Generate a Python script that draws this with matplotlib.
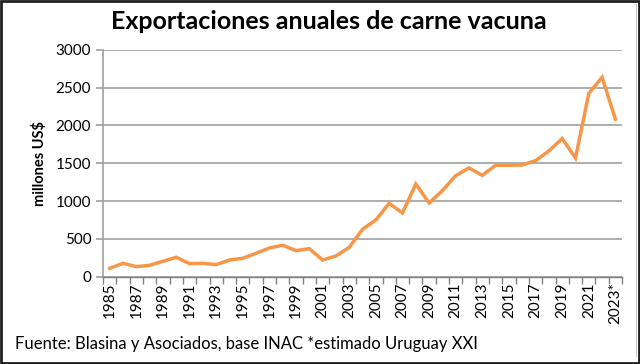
import matplotlib.pyplot as plt
from matplotlib.patches import Rectangle

years = list(range(1985, 2024))
labels = [str(y) for y in years[:-1]] + ["2023*"]
values = [110, 176, 132, 150, 203, 256, 172, 176, 159, 220,
          243, 309, 379, 415, 344, 370, 220, 273, 388, 626,
          750, 970, 842, 1226, 975, 1138, 1336, 1438, 1340, 1473,
          1473, 1477, 1535, 1663, 1826, 1570, 2425, 2637, 2082]
yticks = [0, 500, 1000, 1500, 2000, 2500, 3000]

plt.rcParams['font.family'] = ['Lato', 'DejaVu Sans']

fig = plt.figure(figsize=(6.4, 3.64), dpi=100)
ax = fig.add_axes([0.161, 0.240, 0.811, 0.623])

x = list(range(len(values)))
ax.plot(x, values, color="#F79646", lw=2.5, solid_joinstyle="miter", zorder=3)

ax.set_xlim(-0.5, len(values) - 0.5)
ax.set_ylim(0, 3000)
ax.set_yticks(yticks)
ax.set_yticklabels([str(v) for v in yticks], fontsize=11)
ax.grid(axis="y", color="#A0A0A0", lw=1.2)
ax.set_axisbelow(True)

# category ticks between years, labels every other year
ax.set_xticks([i - 0.5 for i in range(len(values) + 1)], minor=False)
ax.set_xticklabels([])
ax.set_xticks(x[::2], minor=True)
ax.set_xticklabels(labels[::2], minor=True, rotation=90, fontsize=11)
ax.tick_params(axis="x", which="major", length=5, color="#808080", width=1)
ax.tick_params(axis="x", which="minor", length=0, pad=4)
ax.tick_params(axis="y", length=5, color="#A0A0A0", width=1.2)

for s in ["top", "right"]:
    ax.spines[s].set_visible(False)
ax.spines["left"].set_color("#A0A0A0")
ax.spines["left"].set_linewidth(1.2)
ax.spines["bottom"].set_color("#808080")
ax.spines["bottom"].set_linewidth(1)

ax.set_ylabel("millones US$", fontsize=10.5, fontweight="bold", labelpad=6)

fig.text(0.513, 0.94, "Exportaciones anuales de carne vacuna",
         ha="center", va="center", fontsize=18, fontweight="bold")
fig.text(0.023, 0.055, "Fuente: Blasina y Asociados, base INAC *estimado Uruguay XXI",
         ha="left", va="center", fontsize=12)

fig.patches.append(Rectangle((0.994, 0.02), 0.001, 0.97, transform=fig.transFigure,
                             facecolor="#C8C8C8", edgecolor="none"))
fig.patches.append(Rectangle((0.002, 0.004), 0.996, 0.992, transform=fig.transFigure,
                             fill=False, edgecolor="#202020", lw=2))

fig.savefig("out.png", dpi=100)
